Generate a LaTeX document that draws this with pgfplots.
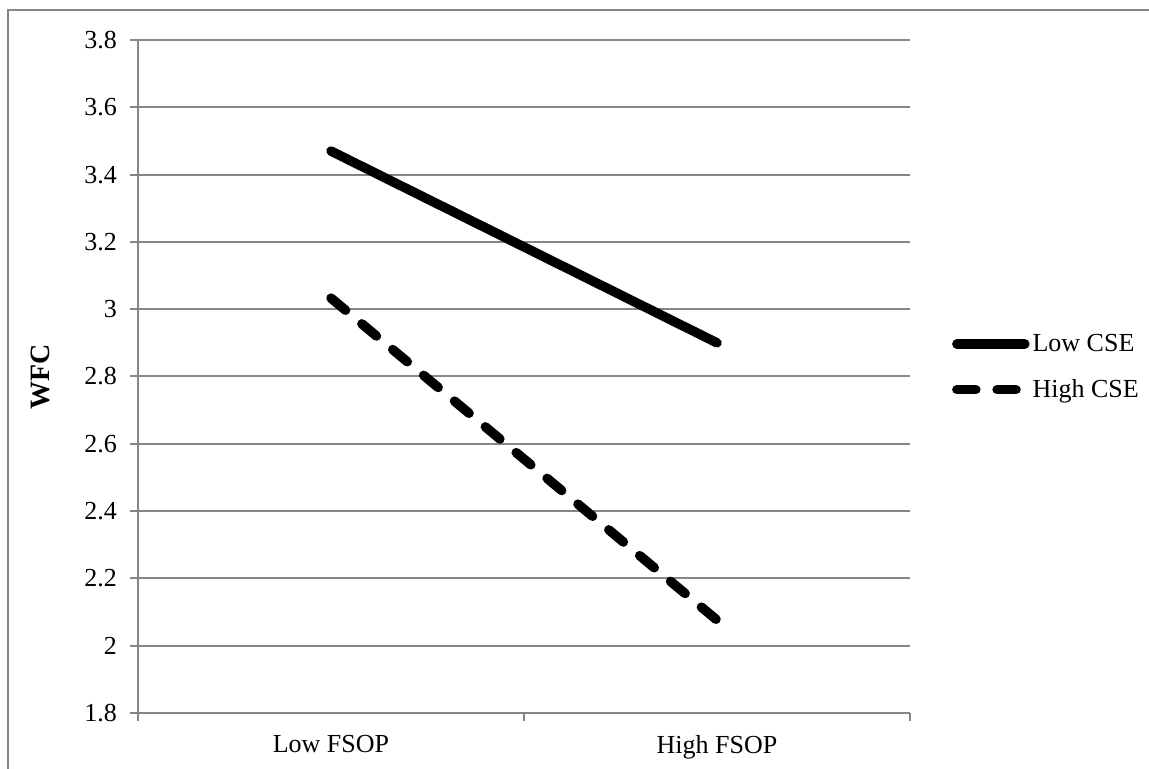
\documentclass[border=0pt]{standalone}
\usepackage{pgfplots}
\pgfplotsset{compat=1.18}
\usepackage{fontspec}
\setmainfont{Liberation Serif}
\definecolor{axgray}{RGB}{134,134,134}
\begin{document}
\begin{tikzpicture}
\useasboundingbox (0,0) rectangle (574.5pt,384.5pt);
\draw[axgray, line width=1pt] (4pt,-20pt) -- (4pt,379.5pt) -- (600pt,379.5pt);
\begin{axis}[
  at={(69pt,28pt)}, anchor=south west,
  scale only axis, width=386pt, height=336.5pt,
  xmin=0.5, xmax=2.5, ymin=1.8, ymax=3.8,
  ytick={1.8,2,2.2,2.4,2.6,2.8,3,3.2,3.4,3.6,3.8},
  xtick={0.5,1.5,2.5}, xticklabels={},
  extra x ticks={1,2},
  extra x tick labels={Low FSOP, High FSOP},
  extra x tick style={major tick length=0pt, xticklabel style={yshift=-7.5pt}},
  axis x line*=bottom, axis y line*=left,
  axis line style={axgray, line width=1pt, -},
  ymajorgrids, grid style={axgray, line width=1pt},
  tick style={axgray, line width=1pt},
  tick align=outside, major tick length=4pt,
  ticklabel style={font=\fontsize{13}{15}\selectfont},
  /pgf/number format/assume math mode=true,
  yticklabel style={xshift=-3pt},
  ylabel={\textbf{WFC}},
  ylabel style={at={(axis description cs:-0.127,0.5)}, anchor=center, font=\fontsize{14}{16}\selectfont},
  legend style={at={(1.054,0.514)}, anchor=west, draw=none, fill=none, inner sep=0pt,
    font=\fontsize{13}{15}\selectfont, row sep=8.5pt,
    nodes={inner xsep=1.5pt}},
  legend cell align=left,
  legend image code/.code={\draw[#1] (0pt,0pt) -- (34pt,0pt);},
]
\addplot[black, line width=4.75pt, line cap=round] coordinates {(1,3.47) (2,2.90)};
\addlegendentry{Low CSE}
\addplot[black, line width=4.75pt, line cap=round, dash pattern=on 9.5pt off 10.6pt] coordinates {(1,3.033) (2,2.076)};
\addlegendentry{High CSE}
\end{axis}
\end{tikzpicture}
\end{document}
